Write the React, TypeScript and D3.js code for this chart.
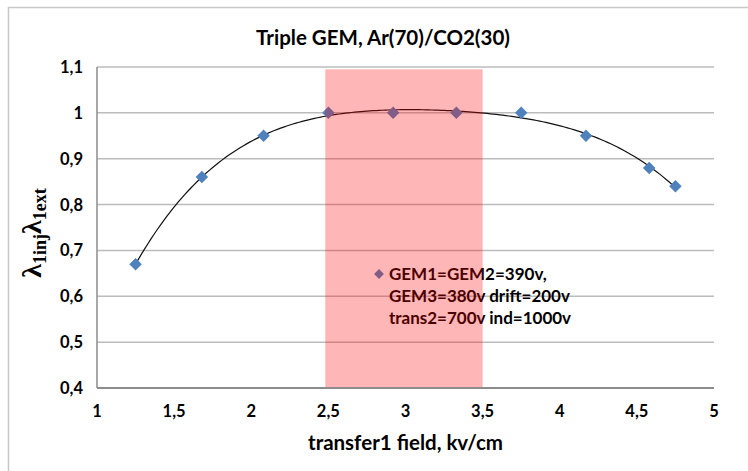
import { useEffect, useRef } from "react";
import * as d3 from "d3";

// transfer1 field (kV/cm) and λ1inj·λ1ext
const fieldValues = [1.25, 1.68, 2.08, 2.5, 2.92, 3.33, 3.75, 4.17, 4.58, 4.75];
const ratioValues = [0.67, 0.86, 0.95, 1.0, 1.0, 1.0, 1.0, 0.95, 0.88, 0.84];
const xTicks = [1, 1.5, 2, 2.5, 3, 3.5, 4, 4.5, 5];
const yTicks = [0.4, 0.5, 0.6, 0.7, 0.8, 0.9, 1.0, 1.1];
const shadeRange = [2.48, 3.5];
const shadeTop = 1.095;
const legendLines = ["GEM1=GEM2=390v,", "GEM3=380v drift=200v", "trans2=700v ind=1000v"];

// least squares polynomial (like the spreadsheet trendline)
function polyFit(xs: number[], ys: number[], deg: number) {
  const n = deg + 1;
  const A: number[][] = [];
  for (let i = 0; i < n; i++) {
    A.push([]);
    for (let j = 0; j < n; j++) A[i].push(d3.sum(xs, (x) => Math.pow(x, i + j)));
    A[i].push(d3.sum(xs, (x, k) => Math.pow(x, i) * ys[k]));
  }
  for (let i = 0; i < n; i++) {
    let p = i;
    for (let r = i + 1; r < n; r++) if (Math.abs(A[r][i]) > Math.abs(A[p][i])) p = r;
    [A[i], A[p]] = [A[p], A[i]];
    for (let r = 0; r < n; r++) {
      if (r === i) continue;
      const f = A[r][i] / A[i][i];
      for (let c = i; c <= n; c++) A[r][c] -= f * A[i][c];
    }
  }
  const coef = A.map((row, i) => row[n] / row[i]);
  return (x: number) => coef.reduce((s, c, i) => s + c * Math.pow(x, i), 0);
}

const fmt = (v: number) => d3.format("~g")(v).replace(".", ",");

export default function App() {
  const ref = useRef<HTMLDivElement>(null);

  useEffect(() => {
    const width = 748;
    const height = 471;
    const margin = { top: 67, right: 34, bottom: 83, left: 97 };
    const font = "Lato, 'Open Sans', sans-serif";

    const svg = d3
      .select(ref.current)
      .append("svg")
      .attr("width", width)
      .attr("height", height)
      .style("position", "absolute")
      .style("left", 0)
      .style("top", 0)
      .style("font-family", font);

    svg
      .append("rect")
      .attr("x", 8.5)
      .attr("y", 7.5)
      .attr("width", width)
      .attr("height", height)
      .attr("fill", "#fff")
      .attr("stroke", "#c8c8c8")
      .attr("stroke-width", 1.5);

    const x = d3.scaleLinear().domain([1, 5]).range([margin.left, width - margin.right]);
    const y = d3.scaleLinear().domain([0.4, 1.1]).range([height - margin.bottom, margin.top]);

    // gridlines
    svg
      .append("g")
      .selectAll("line")
      .data(yTicks.slice(1))
      .enter()
      .append("line")
      .attr("x1", x(1))
      .attr("x2", x(5))
      .attr("y1", (d) => y(d))
      .attr("y2", (d) => y(d))
      .attr("stroke", "#bcbcbc")
      .attr("stroke-width", 1.5);

    // axes
    svg
      .append("line")
      .attr("x1", x(1))
      .attr("x2", x(1))
      .attr("y1", y(1.1))
      .attr("y2", y(0.4))
      .attr("stroke", "#8c8c8c")
      .attr("stroke-width", 1.5);
    svg
      .append("line")
      .attr("x1", x(1))
      .attr("x2", x(5))
      .attr("y1", y(0.4))
      .attr("y2", y(0.4))
      .attr("stroke", "#8c8c8c")
      .attr("stroke-width", 2);

    svg
      .append("g")
      .selectAll("text")
      .data(yTicks)
      .enter()
      .append("text")
      .attr("x", x(1) - 14)
      .attr("y", (d) => y(d) + 6)
      .attr("text-anchor", "end")
      .attr("font-size", 16.5)
      .attr("font-weight", "bold")
      .text(fmt);

    svg
      .append("g")
      .selectAll("text")
      .data(xTicks)
      .enter()
      .append("text")
      .attr("x", (d) => x(d))
      .attr("y", y(0.4) + 29)
      .attr("text-anchor", "middle")
      .attr("font-size", 16.5)
      .attr("font-weight", "bold")
      .text(fmt);

    // trendline
    const fit = polyFit(fieldValues, ratioValues, 4);
    const xs = d3.range(fieldValues[0], fieldValues[fieldValues.length - 1] + 0.001, 0.02);
    svg
      .append("path")
      .datum(xs)
      .attr("fill", "none")
      .attr("stroke", "#111")
      .attr("stroke-width", 1.2)
      .attr(
        "d",
        d3
          .line<number>()
          .x((d) => x(d))
          .y((d) => y(fit(d)))
      );

    const marker = d3.symbol().type(d3.symbolSquare).size(78);
    svg
      .append("g")
      .selectAll("path")
      .data(fieldValues)
      .enter()
      .append("path")
      .attr("transform", (d, i) => `translate(${x(d)},${y(ratioValues[i])}) rotate(45)`)
      .attr("d", marker)
      .attr("fill", "#4f81bd");

    // legend
    const lg = svg.append("g").attr("transform", "translate(379,274)");
    lg.append("path")
      .attr("d", d3.symbol().type(d3.symbolSquare).size(48))
      .attr("transform", "rotate(45)")
      .attr("fill", "#4f81bd");
    lg.selectAll("text")
      .data(legendLines)
      .enter()
      .append("text")
      .attr("x", 10)
      .attr("y", (d, i) => 6 + i * 22)
      .attr("font-size", 17)
      .attr("font-weight", "bold")
      .attr("fill", "#000")
      .text((d) => d);

    // shaded region
    svg
      .append("rect")
      .attr("x", x(shadeRange[0]))
      .attr("y", y(shadeTop))
      .attr("width", x(shadeRange[1]) - x(shadeRange[0]))
      .attr("height", y(0.4) - 1 - y(shadeTop))
      .attr("fill", "rgb(255,0,0)")
      .attr("fill-opacity", 0.286);

    // titles
    svg
      .append("text")
      .attr("x", 383)
      .attr("y", 45)
      .attr("text-anchor", "middle")
      .attr("font-size", 20.5)
      .attr("font-weight", "bold")
      .text("Triple GEM, Ar(70)/CO2(30)");

    svg
      .append("text")
      .attr("x", x(3))
      .attr("y", 450)
      .attr("text-anchor", "middle")
      .attr("font-size", 20.5)
      .attr("font-weight", "bold")
      .text("transfer1 field, kv/cm");

    const yl = svg
      .append("text")
      .attr("transform", "translate(41,233) rotate(-90)")
      .attr("text-anchor", "middle")
      .attr("font-family", "'Liberation Serif', 'DejaVu Serif', serif")
      .attr("font-weight", "bold");
    yl.append("tspan").attr("font-size", 28).text("λ");
    yl.append("tspan").attr("font-size", 18).attr("dy", 5).text("1inj");
    yl.append("tspan").attr("font-size", 28).attr("dy", -5).text("λ");
    yl.append("tspan").attr("font-size", 18).attr("dy", 5).text("1ext");

    return () => {
      d3.select(ref.current).selectAll("*").remove();
    };
  }, []);

  return <div ref={ref} />;
}
